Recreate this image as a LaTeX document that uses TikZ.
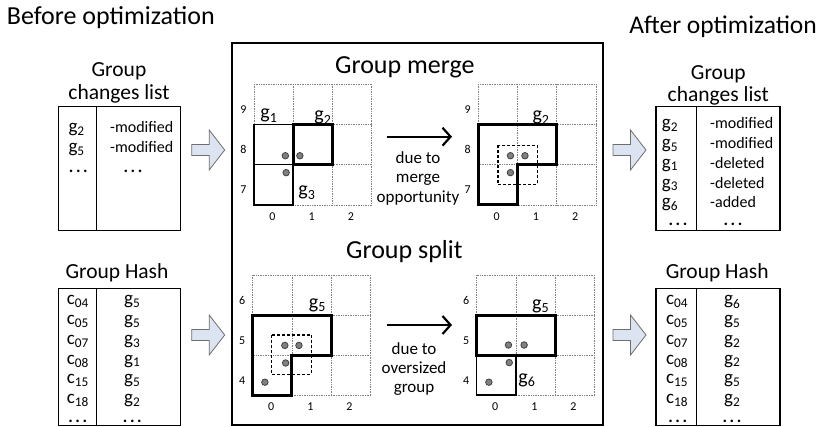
\documentclass[tikz,border=0pt]{standalone}
\usepackage{fontspec}
\setmainfont{Carlito}
\usetikzlibrary{arrows.meta}

\definecolor{arrowfill}{RGB}{220,228,242}
\definecolor{arrowline}{RGB}{110,110,110}
\definecolor{dotfill}{RGB}{128,128,128}

\newcommand{\fs}[1]{\fontsize{#1}{#1}\selectfont}
\newcommand{\tdots}{\textbf{.\hspace{0.15em}.\hspace{0.15em}.}}
\newcommand{\cellgrid}[4]{%
  \foreach \i in {0,...,3} {
    \draw[cellline] (\i,0) -- (\i,3);
    \draw[cellline] (0,\i) -- (3,\i);
  }
  \foreach \c in {0,1,2}
    \node[axislabel] (#1x\c) at (\c+0.47,3.28) {\c};
  \foreach \r/\l in {0/#2,1/#3,2/#4}
    \node[axislabel] (#1y\r) at (-0.27,\r+0.63) {\l};
}

\begin{document}
\begin{tikzpicture}[x=1pt,y=-1pt,
    titletext/.style={font=\fs{26}, inner sep=0, anchor=base west},
    tablehead/.style={font=\fs{21.5}, inner sep=0, anchor=base},
    tableentry/.style={font=\fs{19}, inner sep=0, anchor=base west},
    tablenote/.style={font=\fs{16}, inner sep=0, anchor=base west},
    tabledots/.style={font=\fs{17}, inner sep=0, anchor=base,
      text height=4pt, text depth=0pt},
    boxline/.style={draw, line width=1.3pt, inner sep=0},
    cellline/.style={draw=gray, densely dotted, line width=0.7pt},
    cellbox/.style={draw, line width=1.5pt},
    groupline/.style={draw, line width=3pt, line join=miter},
    cluster/.style={draw, line width=1.2pt, dash pattern=on 3pt off 2pt},
    cellpoint/.style={circle, fill=dotfill, draw=black!75, line width=0.8pt,
      minimum size=6.5pt, inner sep=0},
    axislabel/.style={font=\fs{12}, inner sep=0},
    glabel/.style={font=\fs{20}, inner sep=0},
    reasontext/.style={font=\fs{17}, inner sep=0, anchor=base},
    reasonarrow/.style={line width=2.2pt, -{Straight Barb[length=8pt,width=18pt]}},
    blockarrow/.style={fill=arrowfill, draw=arrowline, line width=0.8pt}]

  \useasboundingbox (0,0) rectangle (818,427);

  \node[titletext] (before) at (6.7,25) {Before optimization};
  \node[titletext, anchor=base east, font=\fs{25.5}] (after) at (817,33.5) {After optimization};

  % change lists
  \node[tablehead] (clb-h1) at (119,76.5) {Group};
  \node[tablehead] (clb-h2) at (119,99.5) {changes list};
  \node[boxline, minimum width=122.4pt, minimum height=124pt] (clb) at (119.5,168.7) {};
  \draw[boxline] ([xshift=39pt]clb.north west) -- ([xshift=39pt]clb.south west);
  \foreach \g/\s [count=\i from 0] in {2/-modified,5/-modified} {
    \node[tableentry] (clb-g\i) at (68.3,133+19.7*\i) {g\textsubscript{\g}};
    \node[tablenote] (clb-s\i) at (110,133+19.7*\i) {\s};
  }
  \node[tabledots] (clb-d1) at (78.3,173) {\tdots};
  \node[tabledots] (clb-d2) at (133,173) {\tdots};

  \node[tablehead] (cla-h1) at (718.3,79.8) {Group};
  \node[tablehead] (cla-h2) at (718.3,101.8) {changes list};
  \node[boxline, minimum width=124pt, minimum height=124pt] (cla) at (718,168.7) {};
  \draw[boxline] ([xshift=41.3pt]cla.north west) -- ([xshift=41.3pt]cla.south west);
  \foreach \g/\s [count=\i from 0] in {2/-modified,5/-modified,1/-deleted,3/-deleted,6/-added} {
    \node[tableentry] (cla-g\i) at (661.7,128.7+19.8*\i) {g\textsubscript{\g}};
    \node[tablenote] (cla-s\i) at (710,128.7+19.8*\i) {\s};
  }
  \node[tabledots] (cla-d1) at (678,226) {\tdots};
  \node[tabledots] (cla-d2) at (733,226) {\tdots};

  % hash tables
  \node[tablehead] (hb-h) at (117,279) {Group Hash};
  \node[boxline, minimum width=122.4pt, minimum height=137.4pt] (hb) at (119.5,357) {};
  \draw[boxline] ([xshift=39pt]hb.north west) -- ([xshift=39pt]hb.south west);
  \foreach \c/\g [count=\i from 0] in {04/5,05/5,07/3,08/1,15/5,18/2} {
    \node[tableentry] (hb-c\i) at (66.7,305+19.7*\i) {c\textsubscript{\c}};
    \node[tableentry] (hb-g\i) at (124,305+19.7*\i) {g\textsubscript{\g}};
  }
  \node[tabledots] (hb-d1) at (77.7,422) {\tdots};
  \node[tabledots] (hb-d2) at (132.3,422) {\tdots};

  \node[tablehead] (ha-h) at (717.2,279) {Group Hash};
  \node[boxline, minimum width=124pt, minimum height=137.4pt] (ha) at (718,357) {};
  \draw[boxline] ([xshift=41.3pt]ha.north west) -- ([xshift=41.3pt]ha.south west);
  \foreach \c/\g [count=\i from 0] in {04/6,05/5,07/2,08/2,15/5,18/2} {
    \node[tableentry] (ha-c\i) at (666,305+19.7*\i) {c\textsubscript{\c}};
    \node[tableentry] (ha-g\i) at (724,305+19.7*\i) {g\textsubscript{\g}};
  }
  \node[tabledots] (ha-d1) at (677.7,422) {\tdots};
  \node[tabledots] (ha-d2) at (732,422) {\tdots};

  % block arrows
  \foreach \ax/\ay in {191.7/150, 191.7/335, 613/150, 613/335}
    \draw[blockarrow] (\ax,\ay-5.5) -- ++(17.5,0) -- ++(0,-14.5) -- ++(15.5,20)
      -- ++(-15.5,20) -- ++(0,-14.5) -- ++(-17.5,0) -- cycle;

  % optimization panel
  \node[boxline, minimum width=371pt, minimum height=382pt] (panel) at (417.5,234) {};
  \node[titletext] (merge) at (335,73.4) {Group merge};
  \node[titletext] (split) at (346,258.4) {Group split};

  \coordinate (m-from) at (386.7,136.7);
  \coordinate (m-to) at (452,136.7);
  \draw[reasonarrow] (m-from) -- (m-to);
  \foreach \t [count=\n from 0] in {due to, merge, opportunity}
    \node[reasontext] (mr\n) at (418,163.5+19.3*\n) {\t};

  \coordinate (s-from) at (386.7,325);
  \coordinate (s-to) at (452,325);
  \draw[reasonarrow] (s-from) -- (s-to);
  \foreach \t [count=\n from 0] in {due to, oversized, group}
    \node[reasontext] (sr\n) at (414,354.3+19*\n) {\t};

  % merge, before
  \begin{scope}[shift={(254,84)}, x=39.2pt, y=-40.3pt]
    \cellgrid{a}{9}{8}{7}
    \draw[cellbox] (0,1) rectangle (1,2);
    \draw[cellbox] (0,2) rectangle (1,3);
    \draw[groupline] (1,1) rectangle (2,2);
    \node[glabel] (a-g1) at (0.38,0.79) {g\textsubscript{1}};
    \node[glabel] (a-g2) at (1.76,0.84) {g\textsubscript{2}};
    \node[glabel] (a-g3) at (1.35,2.7) {g\textsubscript{3}};
    \foreach \px/\py [count=\n] in {0.8/1.78, 1.17/1.78, 0.82/2.2}
      \node[cellpoint] (a-p\n) at (\px,\py) {};
  \end{scope}

  % merge, after
  \begin{scope}[shift={(478.3,84)}, x=39.2pt, y=-40.3pt]
    \cellgrid{b}{9}{8}{7}
    \draw[groupline] (0,1) -- (2,1) -- (2,2) -- (1,2) -- (1,3) -- (0,3) -- cycle;
    \draw[cluster] (0.5,1.52) rectangle (1.5,2.5);
    \node[glabel] (b-g2) at (1.6,0.84) {g\textsubscript{2}};
    \foreach \px/\py [count=\n] in {0.82/1.78, 1.19/1.78, 0.82/2.2}
      \node[cellpoint] (b-p\n) at (\px,\py) {};
  \end{scope}

  % split, before
  \begin{scope}[shift={(252.7,275)}, x=39.2pt, y=-40pt]
    \cellgrid{c}{6}{5}{4}
    \draw[groupline] (0,1) -- (2,1) -- (2,2) -- (1,2) -- (1,3) -- (0,3) -- cycle;
    \draw[cluster] (0.48,1.5) rectangle (1.5,2.48);
    \node[glabel] (c-g5) at (1.65,0.75) {g\textsubscript{5}};
    \foreach \px/\py [count=\n] in {0.82/1.76, 1.18/1.76, 0.84/2.2, 0.31/2.68}
      \node[cellpoint] (c-p\n) at (\px,\py) {};
  \end{scope}

  % split, after
  \begin{scope}[shift={(476.7,275)}, x=39.2pt, y=-40pt]
    \cellgrid{d}{6}{5}{4}
    \draw[cellbox] (0,2) rectangle (1,3);
    \draw[groupline] (0,1) rectangle (2,2);
    \node[glabel] (d-g5) at (1.63,0.78) {g\textsubscript{5}};
    \node[glabel] (d-g6) at (1.28,2.64) {g\textsubscript{6}};
    \foreach \px/\py [count=\n] in {0.81/1.75, 1.21/1.75, 0.83/2.19, 0.31/2.68}
      \node[cellpoint] (d-p\n) at (\px,\py) {};
  \end{scope}

\end{tikzpicture}
\end{document}
